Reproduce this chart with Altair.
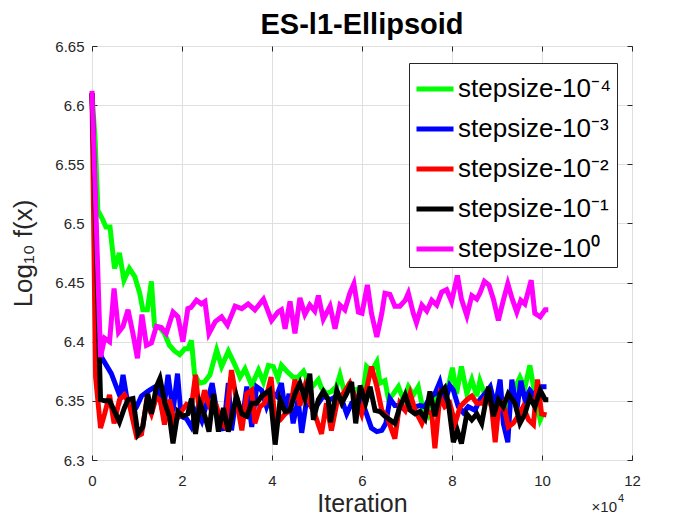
import altair as alt
import pandas as pd

NAMES = ["stepsize-10⁻⁴", "stepsize-10⁻³", "stepsize-10⁻²", "stepsize-10⁻¹", "stepsize-10⁰"]
COLORS = ["#00ff00", "#0000ff", "#ff0000", "#000000", "#ff00ff"]

# iteration in units of 1e4
G_X = [0, 0.07, 0.13, 0.24, 0.31, 0.40, 0.50, 0.61, 0.71, 0.83, 0.95, 1.06, 1.13, 1.23, 1.32, 1.39, 1.50, 1.61,
       1.72, 1.84, 1.95, 2.06, 2.13, 2.21, 2.28, 2.39, 2.50, 2.62, 2.77, 2.88, 3.03, 3.18, 3.29, 3.40, 3.55, 3.70,
       3.81, 3.92, 4.03, 4.13, 4.21, 4.33, 4.47, 4.58, 4.70, 4.81, 4.92, 5.03, 5.10, 5.21, 5.32, 5.43, 5.51, 5.62,
       5.70, 5.81, 5.92, 5.99, 6.10, 6.21, 6.33, 6.40, 6.51, 6.59, 6.70, 6.81, 6.92, 7.03, 7.14, 7.25, 7.36, 7.47,
       7.58, 7.73, 7.85, 8.01, 8.10, 8.21, 8.33, 8.44, 8.55, 8.62, 8.74, 8.85, 8.96, 9.07, 9.14, 9.25, 9.40, 9.51,
       9.62, 9.73, 9.84, 9.96, 10.03]
G_Y = [6.610, 6.570, 6.511, 6.503, 6.497, 6.497, 6.462, 6.475, 6.452, 6.462, 6.455, 6.441, 6.427, 6.427, 6.451,
       6.413, 6.412, 6.407, 6.397, 6.392, 6.389, 6.394, 6.394, 6.401, 6.372, 6.365, 6.366, 6.372, 6.393, 6.379,
       6.392, 6.380, 6.370, 6.377, 6.363, 6.376, 6.366, 6.380, 6.379, 6.369, 6.380, 6.375, 6.370, 6.370, 6.375,
       6.366, 6.363, 6.368, 6.361, 6.356, 6.358, 6.362, 6.372, 6.356, 6.363, 6.359, 6.360, 6.348, 6.379, 6.375,
       6.383, 6.365, 6.367, 6.351, 6.356, 6.362, 6.351, 6.362, 6.355, 6.362, 6.342, 6.337, 6.348, 6.362, 6.350,
       6.378, 6.356, 6.379, 6.356, 6.368, 6.354, 6.367, 6.354, 6.361, 6.345, 6.364, 6.338, 6.345, 6.361, 6.370,
       6.361, 6.380, 6.356, 6.334, 6.340]

B_X = [0, 0.13, 0.21, 0.32, 0.43, 0.54, 0.62, 0.69, 0.78, 0.88, 0.99, 1.10, 1.24, 1.36, 1.46, 1.58, 1.69, 1.80,
       1.90, 1.98, 2.10, 2.21, 2.33, 2.44, 2.55, 2.67, 2.79, 2.92, 3.03, 3.10, 3.21, 3.33, 3.44, 3.55, 3.66, 3.77,
       3.88, 4.00, 4.10, 4.21, 4.29, 4.38, 4.47, 4.58, 4.66, 4.77, 4.92, 5.03, 5.14, 5.29, 5.44, 5.55, 5.66, 5.77,
       5.88, 5.99, 6.10, 6.21, 6.33, 6.44, 6.53, 6.62, 6.73, 6.84, 6.96, 7.07, 7.18, 7.29, 7.40, 7.51, 7.62, 7.73,
       7.84, 7.95, 8.03, 8.14, 8.25, 8.36, 8.51, 8.62, 8.73, 8.85, 8.96, 9.07, 9.14, 9.24, 9.33, 9.44, 9.53, 9.62,
       9.73, 9.84, 9.96, 10.10]
B_Y = [6.610, 6.401, 6.387, 6.380, 6.373, 6.362, 6.354, 6.372, 6.351, 6.347, 6.345, 6.354, 6.358, 6.361, 6.363,
       6.339, 6.372, 6.341, 6.373, 6.337, 6.335, 6.328, 6.342, 6.333, 6.348, 6.365, 6.337, 6.325, 6.365, 6.325,
       6.354, 6.331, 6.362, 6.328, 6.362, 6.359, 6.345, 6.357, 6.354, 6.365, 6.342, 6.356, 6.331, 6.351, 6.323,
       6.351, 6.342, 6.348, 6.354, 6.351, 6.354, 6.351, 6.339, 6.348, 6.348, 6.351, 6.339, 6.327, 6.324, 6.325,
       6.331, 6.352, 6.346, 6.346, 6.342, 6.348, 6.345, 6.346, 6.345, 6.353, 6.356, 6.366, 6.348, 6.363, 6.359,
       6.345, 6.340, 6.345, 6.342, 6.351, 6.356, 6.362, 6.345, 6.368, 6.331, 6.315, 6.368, 6.342, 6.367, 6.351,
       6.359, 6.354, 6.362, 6.362]

R_X = [0, 0.08, 0.19, 0.28, 0.39, 0.49, 0.61, 0.72, 0.83, 0.99, 1.10, 1.21, 1.32, 1.43, 1.52, 1.61, 1.72, 1.84,
       1.95, 2.10, 2.21, 2.30, 2.39, 2.50, 2.55, 2.66, 2.77, 2.88, 2.96, 3.10, 3.21, 3.33, 3.44, 3.55, 3.62, 3.73,
       3.84, 3.98, 4.07, 4.18, 4.29, 4.40, 4.51, 4.62, 4.73, 4.84, 4.95, 5.10, 5.21, 5.32, 5.44, 5.58, 5.73, 5.84,
       5.99, 6.08, 6.21, 6.33, 6.44, 6.55, 6.73, 6.84, 6.96, 7.07, 7.18, 7.33, 7.44, 7.55, 7.62, 7.73, 7.84, 7.95,
       8.07, 8.18, 8.33, 8.44, 8.55, 8.66, 8.77, 8.88, 8.96, 9.03, 9.14, 9.25, 9.36, 9.47, 9.58, 9.70, 9.81, 9.90,
       9.99, 10.10]
R_Y = [6.610, 6.370, 6.327, 6.339, 6.355, 6.331, 6.351, 6.355, 6.347, 6.320, 6.322, 6.349, 6.339, 6.353, 6.350,
       6.330, 6.351, 6.331, 6.339, 6.347, 6.345, 6.372, 6.339, 6.359, 6.352, 6.341, 6.345, 6.331, 6.328, 6.376,
       6.351, 6.325, 6.356, 6.359, 6.331, 6.345, 6.348, 6.370, 6.331, 6.334, 6.339, 6.342, 6.368, 6.346, 6.362,
       6.348, 6.339, 6.322, 6.348, 6.325, 6.348, 6.356, 6.365, 6.354, 6.339, 6.356, 6.379, 6.362, 6.342, 6.337,
       6.318, 6.348, 6.342, 6.356, 6.342, 6.331, 6.342, 6.339, 6.310, 6.354, 6.345, 6.348, 6.331, 6.345, 6.351,
       6.354, 6.348, 6.348, 6.354, 6.345, 6.315, 6.342, 6.348, 6.328, 6.331, 6.337, 6.345, 6.334, 6.330, 6.368,
       6.339, 6.338]

K_X = [0, 0.19, 0.28, 0.39, 0.49, 0.61, 0.72, 0.80, 0.91, 1.02, 1.13, 1.24, 1.32, 1.43, 1.51, 1.62, 1.72, 1.80,
       1.91, 2.02, 2.13, 2.21, 2.30, 2.40, 2.51, 2.60, 2.70, 2.81, 2.92, 3.03, 3.21, 3.33, 3.44, 3.55, 3.66, 3.77,
       3.95, 4.07, 4.18, 4.29, 4.40, 4.51, 4.62, 4.73, 4.84, 4.92, 5.03, 5.14, 5.25, 5.30, 5.44, 5.55, 5.66, 5.77,
       5.86, 5.96, 6.08, 6.18, 6.29, 6.40, 6.51, 6.73, 6.84, 6.96, 7.07, 7.18, 7.29, 7.40, 7.51, 7.62, 7.73, 7.84,
       7.92, 8.03, 8.12, 8.21, 8.33, 8.44, 8.55, 8.66, 8.81, 8.92, 9.03, 9.14, 9.25, 9.40, 9.51, 9.62, 9.73, 9.84,
       9.96, 10.07, 10.14]
K_Y = [6.610, 6.351, 6.350, 6.350, 6.342, 6.332, 6.344, 6.351, 6.352, 6.322, 6.328, 6.356, 6.339, 6.362, 6.369,
       6.348, 6.337, 6.314, 6.341, 6.337, 6.339, 6.352, 6.322, 6.348, 6.337, 6.324, 6.356, 6.324, 6.344, 6.324,
       6.354, 6.339, 6.337, 6.348, 6.348, 6.354, 6.359, 6.313, 6.351, 6.341, 6.342, 6.356, 6.365, 6.352, 6.373,
       6.334, 6.351, 6.358, 6.351, 6.332, 6.359, 6.348, 6.356, 6.366, 6.331, 6.363, 6.348, 6.362, 6.342, 6.341,
       6.337, 6.331, 6.345, 6.355, 6.342, 6.339, 6.341, 6.335, 6.358, 6.337, 6.356, 6.361, 6.348, 6.315, 6.325,
       6.314, 6.339, 6.334, 6.339, 6.331, 6.362, 6.337, 6.351, 6.345, 6.356, 6.348, 6.331, 6.339, 6.353, 6.345,
       6.359, 6.351, 6.351]

M_X = [0, 0.19, 0.28, 0.39, 0.49, 0.59, 0.69, 0.80, 0.91, 1.01, 1.11, 1.21, 1.32, 1.43, 1.54, 1.65, 1.80, 1.91,
       2.02, 2.13, 2.20, 2.32, 2.43, 2.51, 2.60, 2.74, 2.88, 3.01, 3.18, 3.33, 3.47, 3.62, 3.81, 3.99, 4.13, 4.21,
       4.29, 4.40, 4.51, 4.62, 4.73, 4.84, 4.95, 5.03, 5.14, 5.29, 5.40, 5.51, 5.62, 5.73, 5.82, 5.92, 6.00, 6.12,
       6.21, 6.33, 6.44, 6.51, 6.62, 6.73, 6.84, 6.96, 7.03, 7.14, 7.21, 7.33, 7.44, 7.55, 7.66, 7.77, 7.88, 7.99,
       8.12, 8.21, 8.33, 8.44, 8.55, 8.62, 8.72, 8.82, 8.92, 9.03, 9.14, 9.24, 9.34, 9.44, 9.53, 9.62, 9.76, 9.84,
       9.96, 10.07, 10.14]
M_Y = [6.612, 6.387, 6.403, 6.400, 6.445, 6.408, 6.413, 6.427, 6.407, 6.386, 6.423, 6.397, 6.399, 6.413, 6.412,
       6.407, 6.425, 6.421, 6.400, 6.428, 6.429, 6.435, 6.432, 6.434, 6.407, 6.417, 6.421, 6.414, 6.430, 6.428,
       6.432, 6.427, 6.436, 6.418, 6.425, 6.427, 6.411, 6.434, 6.407, 6.437, 6.423, 6.431, 6.426, 6.439, 6.419,
       6.430, 6.411, 6.431, 6.427, 6.441, 6.449, 6.425, 6.424, 6.448, 6.424, 6.404, 6.424, 6.441, 6.440, 6.430,
       6.430, 6.435, 6.441, 6.424, 6.416, 6.431, 6.426, 6.435, 6.431, 6.442, 6.444, 6.434, 6.456, 6.436, 6.422,
       6.439, 6.436, 6.441, 6.451, 6.448, 6.436, 6.418, 6.435, 6.449, 6.436, 6.425, 6.435, 6.432, 6.452, 6.424,
       6.421, 6.427, 6.427]

X_TICKS = [0, 2, 4, 6, 8, 10, 12]
Y_TICKS = [6.3, 6.35, 6.4, 6.45, 6.5, 6.55, 6.6, 6.65]

SERIES = [(G_X, G_Y), (B_X, B_Y), (R_X, R_Y), (K_X, K_Y), (M_X, M_Y)]
rows = []
for name, (xs, ys) in zip(NAMES, SERIES):
    for i, (xv, yv) in enumerate(zip(xs, ys)):
        rows.append({"s": name, "x": xv, "y": yv, "i": i})
df = pd.DataFrame(rows)

FONT = "Liberation Sans"
AX = "#262626"

xscale = alt.Scale(domain=[0, 12], nice=False, zero=False)
yscale = alt.Scale(domain=[6.3, 6.65], nice=False, zero=False)
cscale = alt.Scale(domain=NAMES, range=COLORS)

x_main = alt.Axis(orient="bottom", values=X_TICKS, format="d", offset=-5, domain=False,
                  tickSize=5, tickWidth=1, tickColor=AX, labelPadding=13, labelFontSize=15,
                  labelColor=AX, labelFont=FONT, labelFlush=False, grid=True, gridColor="#dfdfdf",
                  title="Iteration", titleFont=FONT, titleFontSize=25, titleFontWeight="normal",
                  titleColor=AX, titlePadding=3)
y_main = alt.Axis(orient="left", values=Y_TICKS, format=".2~f", offset=-5, domain=False,
                  tickSize=5, tickWidth=1, tickColor=AX, labelPadding=8, labelFontSize=15,
                  labelColor=AX, labelFont=FONT, labelFlush=False, grid=True, gridColor="#dfdfdf",
                  title="Log₁₀ f(x)", titleFont=FONT, titleFontSize=26, titleFontWeight="normal",
                  titleColor=AX, titlePadding=18)

legend = alt.Legend(title=None, orient="none", legendX=317, legendY=17, symbolType="stroke",
                    symbolSize=1369, symbolStrokeWidth=5, labelFontSize=26, labelFont=FONT,
                    labelColor="#000000", rowPadding=6, padding=5, labelOffset=2,
                    fillColor="white", strokeColor=AX, labelLimit=400)

layers = []
for k, name in enumerate(NAMES):
    base = alt.Chart(df).transform_filter(alt.datum.s == name).mark_line(strokeWidth=5)
    if k == 0:
        enc = base.encode(
            x=alt.X("x:Q", scale=xscale, axis=x_main),
            y=alt.Y("y:Q", scale=yscale, axis=y_main),
            color=alt.Color("s:N", scale=cscale, legend=legend, sort=NAMES),
            order="i:Q",
        )
    else:
        enc = base.encode(
            x=alt.X("x:Q", scale=xscale, axis=None),
            y=alt.Y("y:Q", scale=yscale, axis=None),
            color=alt.Color("s:N", scale=cscale, legend=None, sort=NAMES),
            order="i:Q",
        )
    layers.append(enc)

ticks = alt.Chart(df).mark_point(opacity=0).encode(
    x=alt.X("x:Q", scale=xscale, axis=alt.Axis(orient="top", values=X_TICKS, labels=False, offset=-5,
                                                  domain=False, tickSize=5, tickColor=AX, grid=False, title=None)),
    y=alt.Y("y:Q", scale=yscale, axis=alt.Axis(orient="right", values=Y_TICKS, labels=False, offset=-5,
                                                  domain=False, tickSize=5, tickColor=AX, grid=False, title=None)),
)

mult = alt.Chart(pd.DataFrame({"t": ["×10"]})).mark_text(
    fontSize=15, font=FONT, color=AX, align="right", baseline="middle"
).encode(text="t:N", x=alt.value(525), y=alt.value(461))
expo = alt.Chart(pd.DataFrame({"t": ["4"]})).mark_text(
    fontSize=11, font=FONT, color=AX, align="left", baseline="middle"
).encode(text="t:N", x=alt.value(526), y=alt.value(453))

chart = alt.layer(*layers, ticks, mult, expo).resolve_axis(x="independent", y="independent").properties(
    width=540, height=414,
    padding={"left": 84, "top": 38, "right": 60, "bottom": 57},
    autosize=alt.AutoSizeParams(type="none"),
    title=alt.TitleParams("ES-l1-Ellipsoid", fontSize=29, fontWeight="bold", font=FONT,
                          color="#000000", anchor="middle", offset=-1),
    background="white",
).configure_view(stroke=AX, strokeWidth=1)

chart.save("out.html", embed_options={"renderer": "svg", "actions": False})
